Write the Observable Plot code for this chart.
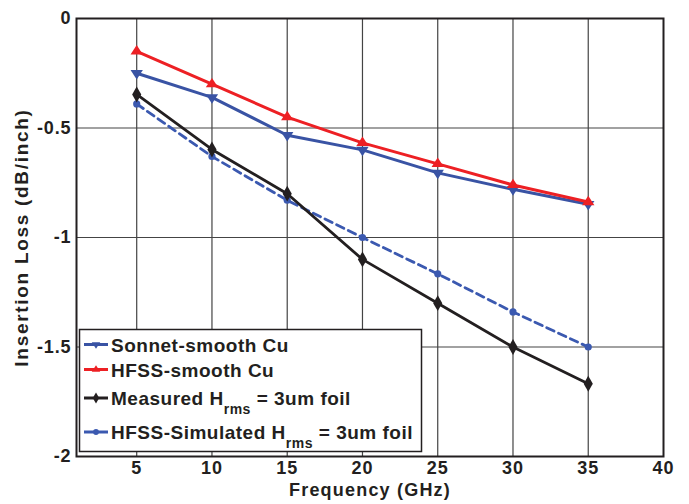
<!DOCTYPE html>
<html><head><meta charset="utf-8">
<script src="https://cdn.jsdelivr.net/npm/d3@7"></script>
<script src="https://cdn.jsdelivr.net/npm/@observablehq/plot@0.6"></script>
<style>
body{margin:0;background:#fff;}
#wrap{position:relative;width:689px;height:504px;}
#wrap svg:not(#legend) text{font-size:18px;letter-spacing:0.9px;font-weight:bold;}
#wrap svg:not(#legend) [aria-label="x-axis label"] text{font-size:18px;letter-spacing:1.2px;}
#wrap svg:not(#legend) [aria-label="y-axis label"] text{font-size:19px;letter-spacing:1.7px;}
#legend{position:absolute;left:0;top:0;}
</style></head><body><div id="wrap"></div>
<script>
const freq = [5, 10, 15, 20, 25, 30, 35];
const sonnet = [-0.25, -0.36, -0.533, -0.60, -0.705, -0.78, -0.848];
const hfssSmooth = [-0.15, -0.30, -0.45, -0.568, -0.664, -0.76, -0.838];
const measured = [-0.347, -0.598, -0.80, -1.10, -1.30, -1.50, -1.668];
const hfssSim = [-0.39, -0.63, -0.83, -1.00, -1.166, -1.34, -1.50];
const xTicks = [5, 10, 15, 20, 25, 30, 35, 40];
const yTicks = [0, -0.5, -1, -1.5, -2];
const legendLabels = ["Sonnet-smooth Cu", "HFSS-smooth Cu", "Measured H", "HFSS-Simulated H"];
const legendSub = ["", "", "rms", "rms"];
const legendTail = ["", "", " = 3um foil", " = 3um foil"];

const RED = "#ed2024", BLUE = "#3953a4", BLACK = "#231f20", BLUE2 = "#3b59b0";

function tri(dir) {
  return {draw(ctx, size) {
    const a = Math.sqrt(size);
    const hw = a * 0.6, H = a * 0.92;
    ctx.moveTo(0, -dir * 2 * H / 3);
    ctx.lineTo(hw, dir * H / 3);
    ctx.lineTo(-hw, dir * H / 3);
    ctx.closePath();
  }};
}
const triUp = tri(1), triDown = tri(-1);

const fmt = d => d === 0 ? "0" : String(d);
const font = "'Liberation Sans', Arial, Helvetica, sans-serif";

const plot = Plot.plot({
  width: 689, height: 504,
  marginLeft: 76, marginRight: 26, marginTop: 18, marginBottom: 48,
  style: {fontFamily: font, fontWeight: "bold", fontSize: "18px", color: BLACK, background: "#fff", overflow: "visible"},
  x: {domain: [1, 40], ticks: xTicks, tickFormat: fmt, label: "Frequency (GHz)", labelAnchor: "center", labelArrow: "none", labelOffset: 39, tickSize: 0, tickPadding: 5},
  y: {domain: [-2, 0], ticks: yTicks, tickFormat: fmt, label: "Insertion Loss (dB/inch)", labelAnchor: "center", labelArrow: "none", labelOffset: 62, tickSize: 0, tickPadding: 5},
  marks: [
    Plot.ruleX(xTicks.filter(t => t < 40), {stroke: "#444", strokeWidth: 1.2}),
    Plot.ruleY(yTicks.filter(t => t > -2 && t < 0), {stroke: "#444", strokeWidth: 1.2}),
    Plot.frame({stroke: BLACK, strokeWidth: 2}),
    Plot.line(freq, {x: freq, y: hfssSim, stroke: BLUE2, strokeWidth: 2.8, strokeDasharray: "8,5"}),
    Plot.dot(freq, {x: freq, y: hfssSim, r: 3.6, fill: BLUE2, symbol: "circle"}),
    Plot.line(freq, {x: freq, y: measured, stroke: BLACK, strokeWidth: 2.8}),
    Plot.dot(freq, {x: freq, y: measured, r: 4.8, fill: BLACK, symbol: "diamond"}),
    Plot.line(freq, {x: freq, y: sonnet, stroke: BLUE, strokeWidth: 3}),
    Plot.dot(freq, {x: freq, y: sonnet, r: 5.8, fill: BLUE, symbol: triDown}),
    Plot.line(freq, {x: freq, y: hfssSmooth, stroke: RED, strokeWidth: 3}),
    Plot.dot(freq, {x: freq, y: hfssSmooth, r: 5.8, fill: RED, symbol: triUp})
  ]
});
const wrap = document.getElementById("wrap");
wrap.appendChild(plot);

// Legend overlay
const colors = [BLUE, RED, BLACK, BLUE2];
const syms = [d3.symbol(triDown, 50), d3.symbol(triUp, 50), d3.symbol(d3.symbolDiamond, 36), d3.symbol(d3.symbolCircle, 26)];
const rowY = [344.5, 369.5, 398, 432];
const svg = d3.select(wrap).append("svg").attr("id", "legend").attr("width", 689).attr("height", 504)
  .style("font-family", font).style("font-weight", "bold").style("font-size", "19px");
svg.append("rect").attr("x", 79.5).attr("y", 329.5).attr("width", 342).attr("height", 122)
  .attr("fill", "#fff").attr("stroke", BLACK).attr("stroke-width", 1.5);
legendLabels.forEach((lab, i) => {
  const g = svg.append("g");
  g.append("line").attr("x1", 84).attr("x2", 108).attr("y1", rowY[i]).attr("y2", rowY[i])
    .attr("stroke", colors[i]).attr("stroke-width", 3);
  g.append("path").attr("d", syms[i]()).attr("transform", `translate(96,${rowY[i]})`).attr("fill", colors[i]);
  const t = g.append("text").attr("x", 111).attr("y", rowY[i] + 7).attr("fill", BLACK).style("letter-spacing", "0.5px");
  t.append("tspan").text(lab);
  if (legendSub[i]) {
    t.append("tspan").attr("dy", 8.5).style("font-size", "14px").text(legendSub[i]);
    t.append("tspan").attr("dy", -8.5).text(legendTail[i]);
  }
});
</script></body></html>
